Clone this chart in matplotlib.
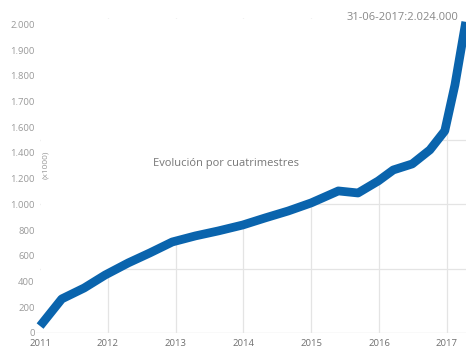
import matplotlib.pyplot as plt

plt.rcParams['font.family'] = ['Open Sans', 'DejaVu Sans']

# datos (unidades del eje, x1000)
fechas = [2011.00, 2011.32, 2011.65, 2011.96, 2012.30, 2012.62, 2012.95,
          2013.29, 2013.63, 2013.99, 2014.32, 2014.66, 2015.00, 2015.40,
          2015.69, 2015.99, 2016.21, 2016.49, 2016.75, 2016.97, 2017.12,
          2017.28]
valores = [54, 265, 350, 451, 545, 623, 708, 755, 794, 840, 895, 949,
           1012, 1105, 1089, 1183, 1268, 1315, 1424, 1572, 1930, 2420]

anios = [2011, 2012, 2013, 2014, 2015, 2016, 2017]
etiquetas_y = ['0', '200', '400', '600', '800', '1.000', '1.200', '1.400',
               '1.600', '1.700', '1.800', '1.900', '2.000']
rejilla_y = [500, 1000, 1500]

fig = plt.figure(figsize=(4.66, 3.47), dpi=100)
ax = fig.add_axes([36 / 466, 14 / 347, 430 / 466, 315 / 347])

ymax = 2450
xmin = 2010.94
ax.set_xlim(xmin, 2017.283)
ax.set_ylim(0, ymax)

gris = '#e4e4e4'
for a in anios[1:]:
    ax.axvline(a, color=gris, lw=0.9, zorder=1)
for v in rejilla_y:
    ax.axhline(v, color=gris, lw=0.9, zorder=1)
ax.axhline(0, color=gris, lw=1.0, zorder=1)

# tapar la rejilla por encima de la curva
ax.fill_between(fechas, valores, ymax, color='white', zorder=2, lw=0)
ax.axvspan(xmin, fechas[0], ymin=0.005, color='white', zorder=2, lw=0)

ax.plot(fechas, valores, color='#0a64ad', lw=6.3, solid_capstyle='butt',
        solid_joinstyle='round', zorder=3)

ax.set_yticks([i * 200 for i in range(len(etiquetas_y))])
ax.set_yticklabels(etiquetas_y, fontsize=6.8, color='#9a9a9a')
ax.set_xticks(anios)
ax.set_xticklabels([str(a) for a in anios], fontsize=6.8, color='#707070')
ax.tick_params(length=0)
ax.tick_params(axis='x', pad=4)
ax.tick_params(axis='y', pad=1)
for s in ax.spines.values():
    s.set_visible(False)

ax.text(2011.08, 1310, '(x1000)', rotation=90, fontsize=6, color='#999999',
        ha='center', va='center', zorder=4)
ax.text(2012.67, 1315, 'Evolución por cuatrimestres', fontsize=8,
        color='#777777', va='center', zorder=4)
ax.text(2017.17, 2455, '31-06-2017:2.024.000', fontsize=8, color='#888888',
        ha='right', va='center', zorder=4)

fig.savefig('out.png', dpi=100)
